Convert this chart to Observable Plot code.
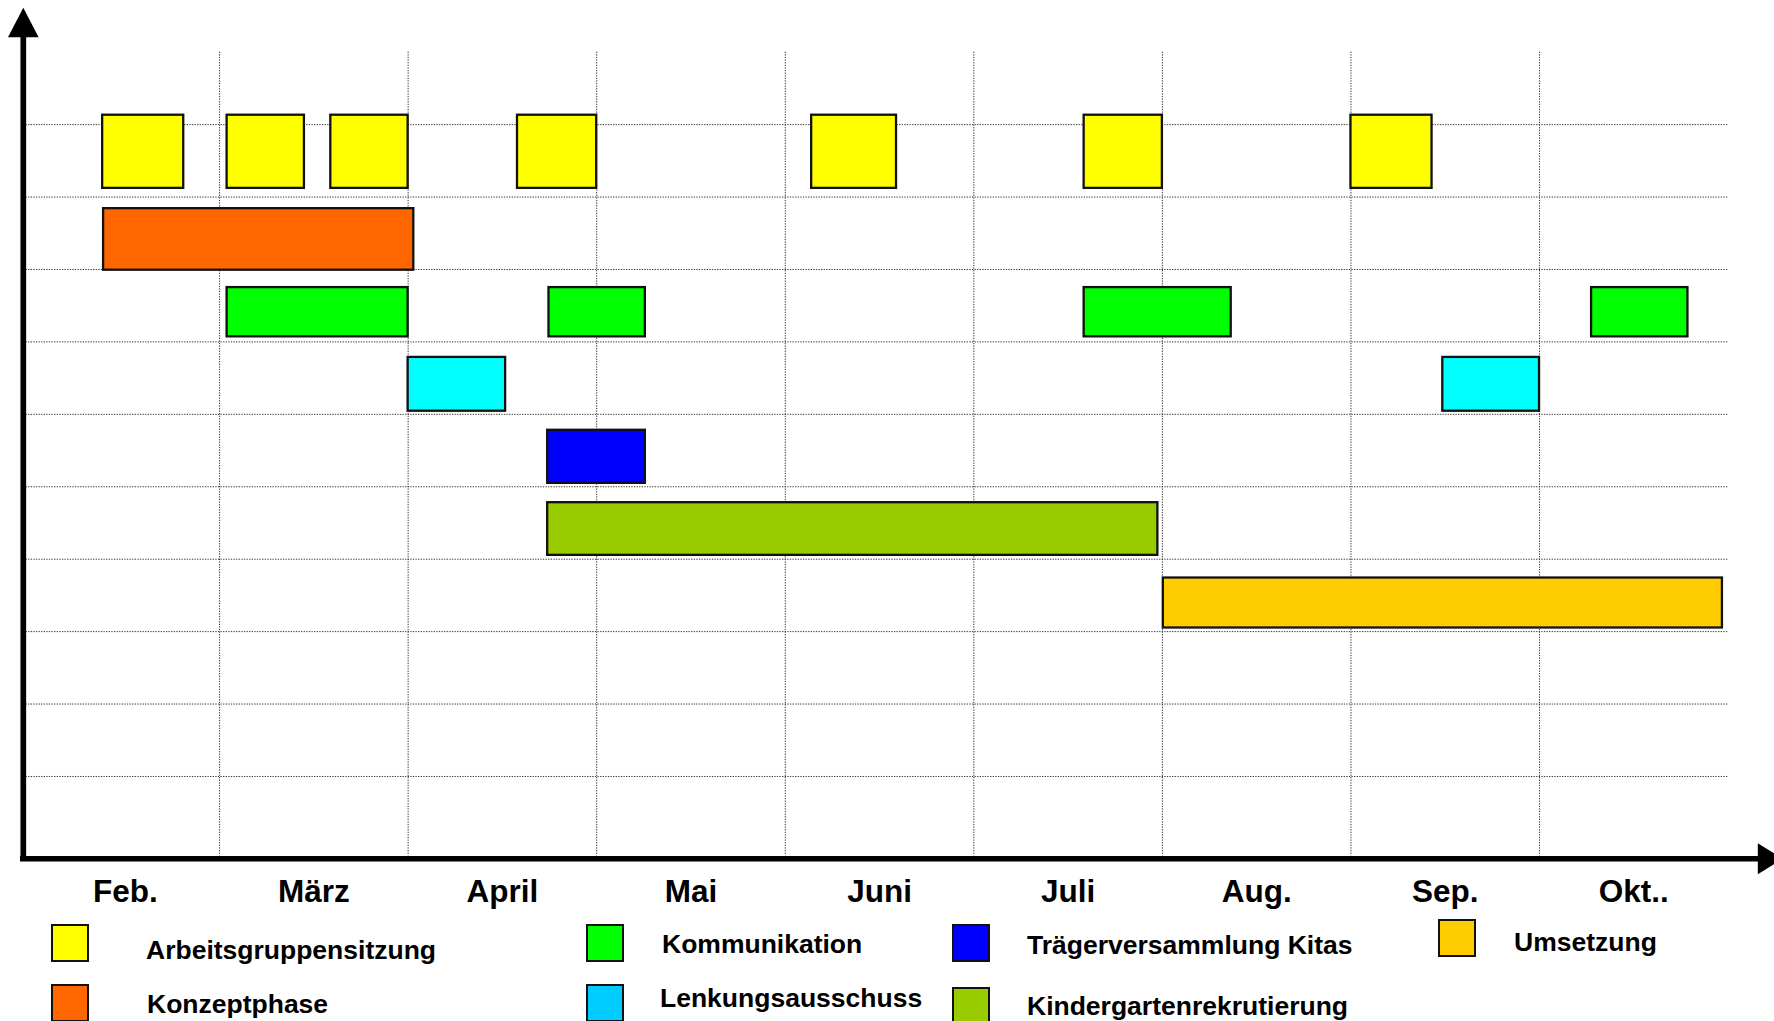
<!DOCTYPE html>
<html><head><meta charset="utf-8">
<script src="https://cdn.jsdelivr.net/npm/d3@7"></script>
<script src="https://cdn.jsdelivr.net/npm/@observablehq/plot@0.6"></script>
<style>
html,body{margin:0;padding:0;background:#fff;overflow:hidden;width:1774px;height:1021px;}
#chart{position:absolute;left:0;top:0;}
#chart svg{display:block;max-width:none;}
.sw{position:absolute;width:38px;height:38px;box-sizing:border-box;border:2px solid #111;}
.lb{position:absolute;font-family:"Liberation Sans",Arial,sans-serif;font-weight:bold;font-size:26.5px;line-height:26.5px;white-space:nowrap;color:#000;}
</style></head><body>
<div id="chart"></div><div id="legend"></div>
<script>
// ---- data ----
const months = ["Feb.", "März", "April", "Mai", "Juni", "Juli", "Aug.", "Sep.", "Okt.."];
const tasks = ["Arbeitsgruppensitzung", "Konzeptphase", "Kommunikation", "Lenkungsausschuss",
  "Trägerversammlung Kitas", "Kindergartenrekrutierung", "Umsetzung"];
// spans in month units (0 = start of Feb.)
const arbeitsgruppensitzung = [[0.38, 0.81], [1.04, 1.45], [1.59, 2.0], [2.58, 3.0], [4.14, 4.59], [5.585, 6.0], [7.0, 7.43]];
const konzeptphase = [[0.385, 2.03]];
const kommunikation = [[1.04, 2.0], [2.747, 3.258], [5.585, 6.365], [8.276, 8.787]];
const lenkungsausschuss = [[2.0, 2.517], [7.487, 8.0]];
const traegerversammlung = [[2.74, 3.258]];
const kindergartenrekrutierung = [[2.74, 5.976]];
const umsetzung = [[6.005, 8.97]];
const taskSpans = [arbeitsgruppensitzung, konzeptphase, kommunikation, lenkungsausschuss,
  traegerversammlung, kindergartenrekrutierung, umsetzung];
const rowBottom = [9.12, 7.99, 7.07, 6.043, 5.047, 4.053, 3.05];
const rowTop = [10.13, 8.84, 7.75, 6.786, 5.78, 4.78, 3.74];
const barColors = ["#FFFF00", "#FF6600", "#00FF00", "#00FFFF", "#0000FF", "#99CC00", "#FFCC00"];
const legendColors = ["#FFFF00", "#FF6600", "#00FF00", "#00CCFF", "#0000FF", "#99CC00", "#FFCC00"];
const xGrid = [1, 2, 3, 4, 5, 6, 7, 8];
const yGrid = [1, 2, 3, 4, 5, 6, 7, 8, 9, 10];

// ---- layout (styles) ----
const W = 1774, H = 915;
const legendLayout = [
  {sx: 51, sy: 924, tx: 146, ty: 959},
  {sx: 51, sy: 984, tx: 147, ty: 1013},
  {sx: 585.5, sy: 924, tx: 662, ty: 953},
  {sx: 585.5, sy: 984, tx: 660, ty: 1007},
  {sx: 952, sy: 924, tx: 1027, ty: 954},
  {sx: 952, sy: 986.5, tx: 1027, ty: 1015},
  {sx: 1437.5, sy: 919, tx: 1514, ty: 951}
];

const bars = [];
taskSpans.forEach((spans, i) => spans.forEach(([a, b]) =>
  bars.push({task: tasks[i], x1: a, x2: b, y1: rowBottom[i], y2: rowTop[i], color: barColors[i]})));
const monthTicks = months.map((m, i) => ({label: m, x: i + 0.5}));

const dotted = {stroke: "#333", strokeWidth: 1, strokeDasharray: "1.3,1.3"};
const arrowUp = {draw(ctx) { ctx.moveTo(0, -14.7); ctx.lineTo(15.3, 14.7); ctx.lineTo(-15.3, 14.7); ctx.closePath(); }};
const arrowRight = {draw(ctx) { ctx.moveTo(12.5, 0); ctx.lineTo(-12.5, -15.5); ctx.lineTo(-12.5, 15.5); ctx.closePath(); }};

const plot = Plot.plot({
  width: W, height: H,
  marginTop: 51.7, marginBottom: H - 848.4, marginLeft: 30.5, marginRight: W - 1727.6,
  x: {domain: [0, 9], axis: null},
  y: {domain: [0, 11], axis: null},
  color: {type: "identity"},
  style: {background: "white", fontFamily: "'Liberation Sans', Arial, sans-serif", overflow: "visible"},
  marks: [
    Plot.ruleY(yGrid, {x1: 0, x2: 9, insetLeft: -5, ...dotted}),
    Plot.ruleX(xGrid, {y1: 11, y2: 0, insetBottom: -7, ...dotted}),
    Plot.rect(bars, {x1: "x1", x2: "x2", y1: "y1", y2: "y2", fill: "color", stroke: "#111", strokeWidth: 2.3}),
    Plot.ruleX([0], {y1: 11, y2: 0, dx: -7.7, insetTop: -20, insetBottom: -12.5, stroke: "#000", strokeWidth: 5.7}),
    Plot.ruleY([0], {x1: 0, x2: 9, dy: 9.9, insetLeft: -10.5, insetRight: -35, stroke: "#000", strokeWidth: 5.5}),
    Plot.dot([0], {frameAnchor: "top-left", dx: -7.7, dy: -29.7, symbol: arrowUp, fill: "#000", stroke: "none", r: 10}),
    Plot.dot([0], {frameAnchor: "bottom-right", dx: 42.2, dy: 9.9, symbol: arrowRight, fill: "#000", stroke: "none", r: 10}),
    Plot.text(monthTicks, {x: "x", text: "label", frameAnchor: "bottom", lineAnchor: "bottom", dy: 52.8,
      fontSize: 31.5, fontWeight: "bold", fill: "#000"})
  ]
});
document.getElementById("chart").appendChild(plot);

// ---- legend ----
const legend = document.getElementById("legend");
tasks.forEach((name, i) => {
  const p = legendLayout[i];
  const sw = document.createElement("div");
  sw.className = "sw";
  sw.style.left = p.sx + "px"; sw.style.top = p.sy + "px"; sw.style.background = legendColors[i];
  legend.appendChild(sw);
  const lb = document.createElement("div");
  lb.className = "lb";
  lb.textContent = name;
  lb.style.left = p.tx + "px"; lb.style.top = (p.ty - 22.4) + "px";
  legend.appendChild(lb);
});
</script></body></html>
